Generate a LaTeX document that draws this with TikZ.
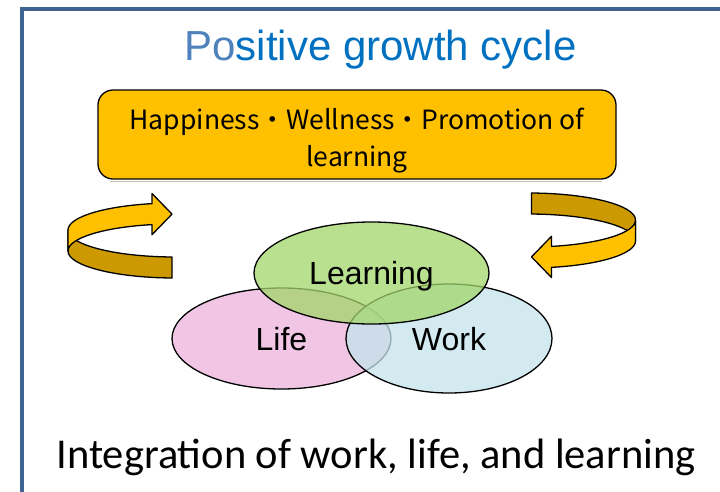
\documentclass[tikz,border=0pt]{standalone}
\usepackage{fontspec}
\setmainfont{Liberation Sans}
\newfontfamily\jpfont{Noto Sans CJK JP}
\newfontfamily\calfont{Carlito}
\usetikzlibrary{shapes.geometric}

\definecolor{framecol}{HTML}{3F6494}
\definecolor{titlelight}{HTML}{4F81BD}
\definecolor{titleblue}{HTML}{0070C0}
\definecolor{gold}{HTML}{FFC000}
\definecolor{darkgold}{HTML}{CC9900}
\definecolor{lifefill}{RGB}{240,198,228}
\definecolor{workfill}{RGB}{195,227,235}
\definecolor{learnfill}{RGB}{162,214,106}

\tikzset{
  outline/.style={draw=black, line width=1.3pt, line join=round},
  goalbox/.style={outline, fill=gold, rounded corners=15pt,
    minimum width=518pt, minimum height=89pt, inner sep=0pt},
  goaltext/.style={inner sep=0pt, align=center,
    font=\jpfont\fontsize{26.5}{37}\selectfont},
  sphere/.style={ellipse, outline, inner sep=0pt, fill opacity=0.75,
    text opacity=1, text height=23pt, text depth=0pt,
    font=\fontsize{32}{36}\selectfont},
  % a band bent round a vertical axis, ending in an arrow head
  ribbonarrow/.pic={
    \path[outline, fill=darkgold]
      (-52,-5.5) arc[start angle=180, end angle=91.6, x radius=107, y radius=27]
      -- ++(0,21)
      arc[start angle=91.6, end angle=180, x radius=107, y radius=27] -- cycle;
    \path[outline, fill=gold]
      (-52,-5.5) arc[start angle=180, end angle=257.6, x radius=107, y radius=27]
      -- (32,-42) -- (52,-21.4) -- (32,-0.8) -- (32,-10.9)
      arc[start angle=257.6, end angle=180, x radius=107, y radius=27] -- cycle;
  }
}

\begin{document}
\begin{tikzpicture}[x=1pt, y=-1pt]
  \useasboundingbox (0,0) rectangle (720,491);
  \fill[white] (0,0) rectangle (720,491);

  % outer frame, open at the right and bottom edges
  \draw[framecol, line width=4pt] (22,500) -- (22,9) -- (730,9);

  % title
  \node[anchor=base, inner sep=0pt, font=\fontsize{42}{48}\selectfont] (title)
    at (380.5,60) {\textcolor{titlelight}{Po}\textcolor{titleblue}{sitive growth cycle}};

  % goal box with its soft under-shadow
  \draw[black!25, line width=1.2pt] (110,181.5) -- (602,181.5);
  \node[goalbox] (goal) at (357,134.5) {};
  \node[goaltext] (goaltext) at ([yshift=-6pt]goal.center)
    {Happiness・Wellness・Promotion of\\learning};

  % circulating arrows
  \pic (leftarrow) at (120,235.5) {ribbonarrow};
  \pic[rotate=180] (rightarrow) at (583.5,235.5) {ribbonarrow};

  % three overlapping spheres
  \node[sphere, fill=lifefill, fill opacity=1, minimum width=219pt, minimum height=101pt]
    (life) at (281.5,338.5) {Life};
  \node[sphere, fill=workfill, minimum width=206pt, minimum height=109pt]
    (work) at (449,338.5) {Work};
  \node[sphere, fill=learnfill, minimum width=235pt, minimum height=102pt]
    (learning) at (371.5,273) {Learning};

  % caption
  \node[anchor=base, inner sep=0pt, font=\calfont\fontsize{42.5}{48}\selectfont] (caption)
    at (376,468) {Integration of work, life, and learning};
\end{tikzpicture}
\end{document}
